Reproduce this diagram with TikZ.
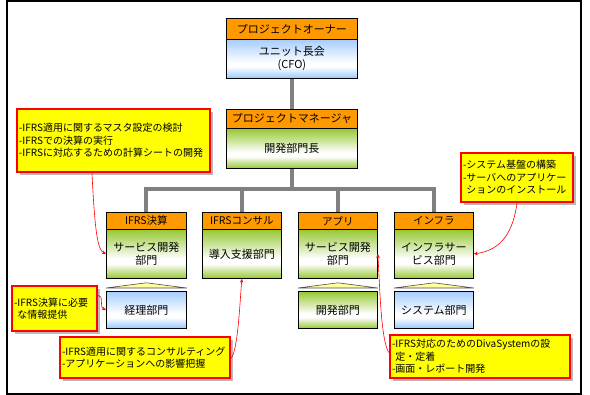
\documentclass[tikz,border=0pt]{standalone}
\usepackage{fontspec}
\setmainfont{Noto Sans CJK JP}
\usetikzlibrary{calc,shadows,arrows.meta}
\definecolor{hdrorange}{RGB}{255,153,0}
\definecolor{bluetop}{RGB}{165,205,255}
\definecolor{bluebot}{RGB}{150,200,255}
\definecolor{greentop}{RGB}{150,200,50}
\definecolor{greenbot}{RGB}{150,200,50}
\definecolor{treegray}{RGB}{128,128,128}
\definecolor{calloutyellow}{RGB}{255,255,0}
\definecolor{calloutred}{RGB}{255,0,0}
\definecolor{triyellow}{RGB}{255,255,160}
\pgfdeclareverticalshading{greenshade}{100bp}{color(0bp)=(greenbot); color(25bp)=(greenbot); color(40bp)=(white); color(45bp)=(white); color(75bp)=(greentop); color(100bp)=(greentop)}
\pgfdeclareverticalshading{blueshade}{100bp}{color(0bp)=(bluebot); color(25bp)=(bluebot); color(40bp)=(white); color(45bp)=(white); color(75bp)=(bluetop); color(100bp)=(bluetop)}
\tikzset{
  hdrbox/.style={draw, line width=0.8pt, fill=hdrorange, inner sep=0pt, anchor=north west},
  bluebody/.style={draw, line width=0.8pt, shade, shading=blueshade, inner sep=0pt, anchor=north west, align=center},
  greenbody/.style={draw, line width=0.8pt, shade, shading=greenshade, inner sep=0pt, anchor=north west, align=center},
  tree/.style={draw=treegray, line width=4pt},
  tri/.style={draw=black!70, line width=0.6pt, fill=triyellow},
  callout/.style={draw=calloutred, line width=2.5pt, fill=calloutyellow, inner xsep=2pt, inner ysep=0pt, align=left,
    font=\fontsize{10}{12.5}\selectfont,
    drop shadow={shadow xshift=3pt, shadow yshift=-3pt, opacity=0.45, fill=black!60}},
  link/.style={draw=calloutred, line width=0.6pt, -{Stealth[length=4pt,width=3.5pt]}},
  bigfont/.style={font=\fontsize{11}{13}\selectfont},
  deptfont/.style={font=\fontsize{10.5}{12.5}\selectfont},
  bodyfont/.style={font=\fontsize{11}{12.5}\selectfont}
}
\begin{document}
\begin{tikzpicture}[x=1pt,y=-1pt]
\useasboundingbox (0,0) rectangle (590,395);
\draw[line width=1.5pt] (7,1) rectangle (581,394);

% top boxes
\node[hdrbox, bigfont, minimum width=131pt, minimum height=21pt] (ownh) at (226,18) {プロジェクトオーナー};
\node[bluebody, bigfont, minimum width=131pt, minimum height=39pt] (ownb) at (226,39) {ユニット長会\\(CFO)};
\node[hdrbox, bigfont, minimum width=131pt, minimum height=19pt] (pmh) at (226,109) {プロジェクトマネージャ};
\node[greenbody, bigfont, minimum width=131pt, minimum height=40pt] (pmb) at (226,128) {開発部門長};

% departments
\node[hdrbox, deptfont, minimum width=80pt, minimum height=17pt] (d1h) at (106,212) {IFRS決算};
\node[greenbody, bodyfont, minimum width=80pt, minimum height=49pt] (d1b) at (106,229) {サービス開発\\部門};
\node[hdrbox, deptfont, minimum width=79pt, minimum height=17pt] (d2h) at (202,212) {IFRSコンサル};
\node[greenbody, bodyfont, minimum width=79pt, minimum height=49pt] (d2b) at (202,229) {導入支援部門};
\node[hdrbox, deptfont, minimum width=79pt, minimum height=17pt] (d3h) at (298,212) {アプリ};
\node[greenbody, bodyfont, minimum width=79pt, minimum height=49pt] (d3b) at (298,229) {サービス開発\\部門};
\node[hdrbox, deptfont, minimum width=79pt, minimum height=17pt] (d4h) at (394,212) {インフラ};
\node[greenbody, bodyfont, minimum width=79pt, minimum height=49pt] (d4b) at (394,229) {インフラサー\\ビス部門};

% sub boxes
\node[bluebody, bodyfont, minimum width=80pt, minimum height=37pt] (s1) at (106,291) {経理部門};
\node[greenbody, bodyfont, minimum width=79pt, minimum height=37pt] (s3) at (298,291) {開発部門};
\node[bluebody, bodyfont, minimum width=79pt, minimum height=37pt] (s4) at (394,291) {システム部門};

% triangles
\draw[tri] ($(s1.north west)+(0,-3)$) -- ($(d1b.south)+(0,4)$) -- ($(s1.north east)+(0,-3)$) -- cycle;
\draw[tri] ($(s3.north west)+(0,-3)$) -- ($(d3b.south)+(0,4)$) -- ($(s3.north east)+(0,-3)$) -- cycle;
\draw[tri] ($(s4.north west)+(0,-3)$) -- ($(d4b.south)+(0,4)$) -- ($(s4.north east)+(0,-3)$) -- cycle;

% tree
\draw[tree] (ownb.south) -- (pmh.north);
\coordinate (hub) at ($(pmb.south)+(0,20)$);
\draw[tree] (pmb.south) -- (hub);
\draw[tree] (hub) -| (d1h.north);
\draw[tree] (hub) -| (d2h.north);
\draw[tree] (hub) -| (d3h.north);
\draw[tree] (hub) -| (d4h.north);

% callouts
\node[callout, text width=189pt, minimum height=63pt] (c1) at (113.5,140.5)
  {-IFRS適用に関するマスタ設定の検討\\-IFRSでの決算の実行\\-IFRSに対応するための計算シートの開発};
\node[callout, text width=108pt, minimum height=49pt] (c2) at (517,177.5)
  {-システム基盤の構築\\-サーバへのアプリケー\\\phantom{-}ションのインストール};
\node[callout, text width=81pt, minimum height=45pt] (c3) at (54.5,308.5)
  {-IFRS決算に必要\\\phantom{-}な情報提供};
\node[callout, text width=166pt, minimum height=41pt] (c4) at (145,357.5)
  {-IFRS適用に関するコンサルティング\\-アプリケーションへの影響把握};
\node[callout, text width=176pt, minimum height=43pt] (c5) at (480,356.5)
  {-IFRS対応のためのDivaSystemの設\\\phantom{-}定・定着\\-画面・レポート開発};

% links
\draw[link] ($(c1.south)+(-21.5,0)$) .. controls (95,235) and (98,250) .. (d1b.west);
\draw[link] (c2.south) .. controls (512,240) and (495,251) .. (d4b.east);
\draw[link] ($(c3.east)+(0,-13)$) .. controls (104,295) and (99,307) .. (s1.west);
\draw[link] ($(c4.east)+(0,0.5)$) .. controls (238,350) and (240,300) .. (d2b.south);
\draw[link] ($(c5.west)+(0,-4)$) .. controls (381,340) and (380,290) .. (d3b.east);
\end{tikzpicture}
\end{document}
